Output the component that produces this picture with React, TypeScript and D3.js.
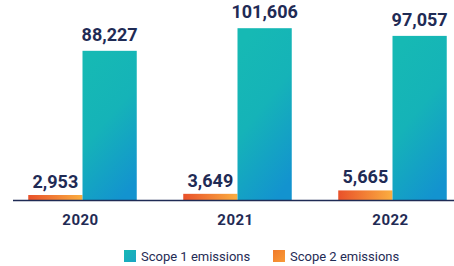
import * as d3 from 'd3';

// emissions per year (tCO2e)
const years = ['2020', '2021', '2022'];
const series = ['Scope 1 emissions', 'Scope 2 emissions'];
const scope1 = [88227, 101606, 97057];
const scope2 = [2953, 3649, 5665];

const navy = '#1f2b55';

export default function App() {
  const width = 454;
  const height = 266;
  const baseY = 200;

  const x0 = d3.scaleBand().domain(years).range([5, 470]).paddingInner(0.3).paddingOuter(0.15);
  // scope 2 left, scope 1 right inside each group
  const x1 = d3.scaleBand().domain(['s2', 's1']).range([0, x0.bandwidth()]);
  const y = d3.scaleLinear().domain([0, 101606]).range([baseY, 28.2]);
  const fmt = d3.format(',');

  const rows = years.map((yr, i) => ({ yr, s1: scope1[i], s2: scope2[i] }));

  return (
    <svg
      width={width}
      height={height}
      style={{ position: 'absolute', left: 0, top: 0, fontFamily: 'Roboto, sans-serif' }}
    >
      <defs>
        <linearGradient id="g1" x1="0.3" y1="0" x2="0.7" y2="1">
          <stop offset="0%" stopColor="#16b9b4" />
          <stop offset="45%" stopColor="#15b3b8" />
          <stop offset="100%" stopColor="#1393cf" />
        </linearGradient>
        <linearGradient id="g2" x1="0" y1="0" x2="1" y2="0">
          <stop offset="0%" stopColor="#e9512a" />
          <stop offset="100%" stopColor="#fbae40" />
        </linearGradient>
        <linearGradient id="leg1" x1="0" y1="0" x2="1" y2="1">
          <stop offset="0%" stopColor="#16b8b5" />
          <stop offset="100%" stopColor="#1aa5c4" />
        </linearGradient>
        <linearGradient id="leg2" x1="0" y1="0" x2="1" y2="1">
          <stop offset="0%" stopColor="#f07a2a" />
          <stop offset="100%" stopColor="#f99a36" />
        </linearGradient>
      </defs>

      {rows.map((d) => {
        const gx = x0(d.yr) as number;
        const bw = x1.bandwidth();
        const xs2 = gx + (x1('s2') as number);
        const xs1 = gx + (x1('s1') as number);
        return (
          <g key={d.yr}>
            <rect x={xs2} y={y(d.s2)} width={bw} height={baseY - y(d.s2)} fill="url(#g2)" />
            <rect x={xs1} y={y(d.s1)} width={bw} height={baseY - y(d.s1)} fill="url(#g1)" />
            <text
              x={xs2 + bw / 2}
              y={y(d.s2) - 7}
              textAnchor="middle"
              fontSize={18}
              fontWeight={700}
              fill={navy}
            >
              {fmt(d.s2)}
            </text>
            <text
              x={xs1 + bw / 2}
              y={y(d.s1) - 10}
              textAnchor="middle"
              fontSize={18}
              fontWeight={700}
              fill={navy}
            >
              {fmt(d.s1)}
            </text>
            <text
              x={gx + x0.bandwidth() / 2 - 2}
              y={225}
              textAnchor="middle"
              fontSize={15}
              fontWeight={700}
              fill={navy}
              letterSpacing={0.5}
            >
              {d.yr}
            </text>
          </g>
        );
      })}

      <line x1={13} x2={454} y1={baseY + 0.5} y2={baseY + 0.5} stroke={navy} strokeWidth={1.5} />

      {/* legend */}
      {series.map((s, i) => {
        const lx = i === 0 ? 124 : 273;
        return (
          <g key={s}>
            <rect x={lx} y={250} width={12} height={12} fill={i === 0 ? 'url(#leg1)' : 'url(#leg2)'} />
            <text x={lx + 17} y={260.5} fontSize={13} fill={navy}>
              {s}
            </text>
          </g>
        );
      })}
    </svg>
  );
}
